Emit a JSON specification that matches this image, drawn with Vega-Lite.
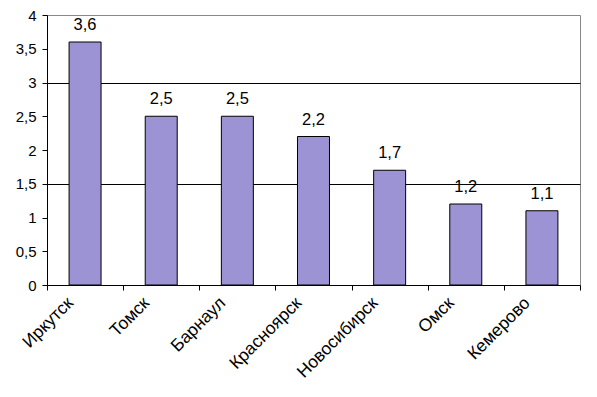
{
  "$schema": "https://vega.github.io/schema/vega-lite/v6.json",
  "width": 533,
  "height": 270,
  "autosize": "none",
  "padding": {"left": 47, "top": 15, "right": 17, "bottom": 112},
  "background": "white",
  "config": {
    "locale": {"number": {"decimal": ",", "thousands": " ", "grouping": [3], "currency": ["", ""]}},
    "view": {"stroke": "#888888", "strokeWidth": 1},
    "font": "Liberation Sans"
  },
  "data": {"values": [
    {"city": "Иркутск", "value": 3.6},
    {"city": "Томск", "value": 2.5},
    {"city": "Барнаул", "value": 2.5},
    {"city": "Красноярск", "value": 2.2},
    {"city": "Новосибирск", "value": 1.7},
    {"city": "Омск", "value": 1.2},
    {"city": "Кемерово", "value": 1.1}
  ]},
  "encoding": {
    "x": {"field": "city", "type": "nominal", "sort": null,
      "scale": {"paddingInner": 0, "paddingOuter": 0},
      "axis": {"title": null, "labelAngle": -45, "labelAlign": "right", "labelBaseline": "middle",
        "labelFontSize": 17.5, "labelColor": "black", "labelPadding": 10, "labelOffset": -15,
        "tickBand": "extent", "tickColor": "black", "tickSize": 5,
        "domainColor": "black", "grid": false}},
    "y": {"field": "value", "type": "quantitative",
      "scale": {"domain": [0, 4], "nice": false},
      "axis": {"title": null, "values": [0, 0.5, 1, 1.5, 2, 2.5, 3, 3.5, 4], "format": ".1~f",
        "labelFontSize": 15, "labelColor": "black", "labelPadding": 6,
        "tickColor": "black", "tickSize": 5, "domainColor": "black",
        "grid": true, "gridColor": "black",
        "gridOpacity": {"condition": {"test": "datum.value == 1.5 || datum.value == 3", "value": 1}, "value": 0}}}
  },
  "layer": [
    {"mark": {"type": "bar", "width": {"band": 0.42}, "color": "#9b93d3", "stroke": "black", "strokeWidth": 1}},
    {"mark": {"type": "text", "dy": -12, "baseline": "alphabetic", "fontSize": 16.5, "color": "black"},
     "encoding": {"text": {"field": "value", "type": "quantitative", "format": ".1f"}}}
  ]
}
